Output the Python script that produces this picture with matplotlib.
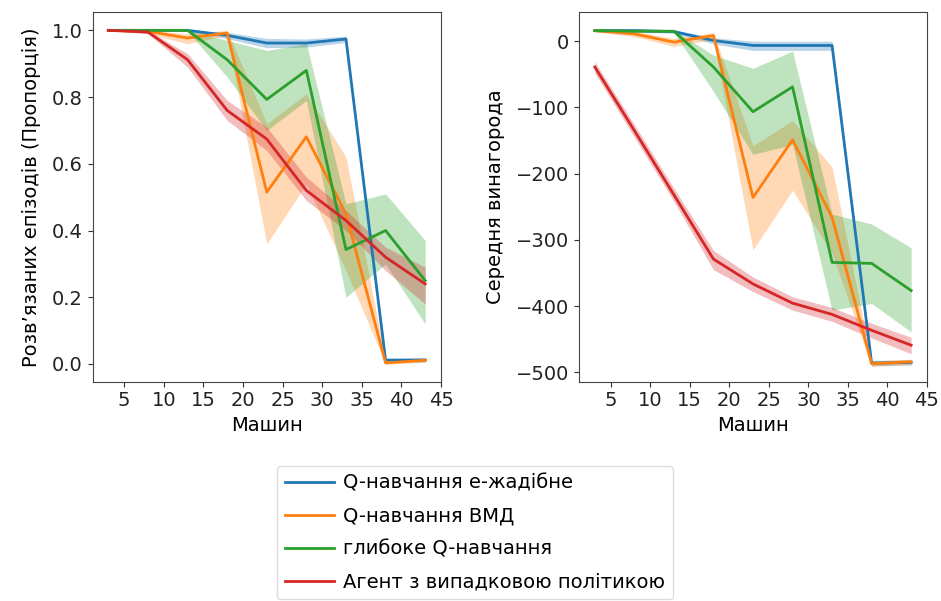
import matplotlib
matplotlib.use('Agg')
import matplotlib.pyplot as plt

# ── Data ───────────────────────────────────────────────────────────────────────
machines = [3, 8, 13, 18, 23, 28, 33, 38, 43]

labels = [
    'Q-навчання е-жадібне',
    'Q-навчання ВМД',
    'глибоке Q-навчання',
    'Агент з випадковою політикою',
]
colors = ['#1f77b4', '#ff7f0e', '#2ca02c', '#d62728']

# solved episodes (proportion): mean, lower, upper
solved_greedy = [1.0, 1.0, 1.0, 0.985, 0.962, 0.962, 0.974, 0.011, 0.012]
solved_greedy_lo = [1.0, 1.0, 0.997, 0.975, 0.948, 0.950, 0.964, 0.005, 0.006]
solved_greedy_hi = [1.0, 1.0, 1.0, 0.994, 0.976, 0.974, 0.983, 0.018, 0.018]

solved_ucb = [1.0, 0.997, 0.977, 0.992, 0.515, 0.681, 0.45, 0.003, 0.011]
solved_ucb_lo = [1.0, 0.99, 0.96, 0.985, 0.36, 0.54, 0.28, 0.0, 0.005]
solved_ucb_hi = [1.0, 1.0, 0.99, 1.0, 0.72, 0.81, 0.62, 0.01, 0.017]

solved_dqn = [1.0, 1.0, 1.0, 0.912, 0.793, 0.88, 0.343, 0.40, 0.25]
solved_dqn_lo = [1.0, 1.0, 0.998, 0.86, 0.70, 0.79, 0.20, 0.30, 0.12]
solved_dqn_hi = [1.0, 1.0, 1.0, 0.97, 0.94, 0.96, 0.48, 0.51, 0.37]

solved_rand = [1.0, 0.995, 0.912, 0.76, 0.674, 0.52, 0.43, 0.32, 0.24]
solved_rand_lo = [1.0, 0.99, 0.89, 0.73, 0.64, 0.49, 0.40, 0.28, 0.18]
solved_rand_hi = [1.0, 1.0, 0.93, 0.79, 0.71, 0.56, 0.46, 0.35, 0.29]

# mean reward: mean, lower, upper
reward_greedy = [16, 16, 14.5, 1, -6.5, -6.5, -6.5, -486, -485]
reward_greedy_lo = [14, 14, 12, -4, -14, -14, -14, -490, -489]
reward_greedy_hi = [18, 18, 17, 5, 0, 0, 0, -482, -481]

reward_ucb = [16, 11, -1.5, 8.5, -236, -149, -266, -487, -484]
reward_ucb_lo = [14, 7, -8, 3, -315, -225, -320, -491, -488]
reward_ucb_hi = [18, 15, 4, 13, -158, -120, -190, -483, -480]

reward_dqn = [16, 15, 15, -39, -106.5, -69, -334, -335.5, -376.5]
reward_dqn_lo = [14, 13, 13, -76, -171, -156, -406, -396, -439]
reward_dqn_hi = [18, 17, 17, -21, -41, -15, -261, -276, -312]

reward_rand = [-39, -135, -232, -329, -366.5, -395.5, -412.5, -436.5, -459]
reward_rand_lo = [-48, -145, -242, -345, -378, -406, -423, -448, -472]
reward_rand_hi = [-31, -126, -222, -316, -356, -386, -402, -426, -447]

xticks = [5, 10, 15, 20, 25, 30, 35, 40, 45]

# ── Plot ───────────────────────────────────────────────────────────────────────
plt.rcParams['font.family'] = ['DejaVu Sans']
plt.rcParams['font.size'] = 14

fig = plt.figure(figsize=(9.41, 6.01), dpi=100)
ax1 = fig.add_axes([0.0983, 0.365, 0.3704, 0.615])
ax2 = fig.add_axes([0.6153, 0.365, 0.3698, 0.615])

panels = [
    (ax1,
     [solved_greedy, solved_ucb, solved_dqn, solved_rand],
     [solved_greedy_lo, solved_ucb_lo, solved_dqn_lo, solved_rand_lo],
     [solved_greedy_hi, solved_ucb_hi, solved_dqn_hi, solved_rand_hi],
     'Розв’язаних епізодів (Пропорція)'),
    (ax2,
     [reward_greedy, reward_ucb, reward_dqn, reward_rand],
     [reward_greedy_lo, reward_ucb_lo, reward_dqn_lo, reward_rand_lo],
     [reward_greedy_hi, reward_ucb_hi, reward_dqn_hi, reward_rand_hi],
     'Середня винагорода'),
]

for ax, means, los, his, ylab in panels:
    for m, lo, hi, c, lbl in zip(means, los, his, colors, labels):
        ax.fill_between(machines, lo, hi, color=c, alpha=0.3, linewidth=0)
        ax.plot(machines, m, color=c, linewidth=2, label=lbl)
    ax.set_xticks(xticks)
    ax.set_xlim(1, 45)
    ax.set_xlabel('Машин', fontsize=14)
    ax.set_ylabel(ylab, fontsize=14, labelpad=8)
    ax.tick_params(labelsize=14, colors='#333333', labelcolor='#222222')
    for sp in ax.spines.values():
        sp.set_color('#444444')

ax1.set_yticks([0.0, 0.2, 0.4, 0.6, 0.8, 1.0])
ax1.set_ylim(-0.053, 1.055)
ax2.set_yticks([0, -100, -200, -300, -400, -500])
ax2.set_ylim(-514, 44)

# shared legend below the panels
handles, lbls = ax1.get_legend_handles_labels()
fig.legend(handles, lbls, loc='upper center', bbox_to_anchor=(0.505, 0.241),
           fontsize=14, handlelength=2.5, handletextpad=0.5, labelspacing=0.72,
           edgecolor='#dddddd', framealpha=1.0)

fig.savefig('out.png', dpi=100)
